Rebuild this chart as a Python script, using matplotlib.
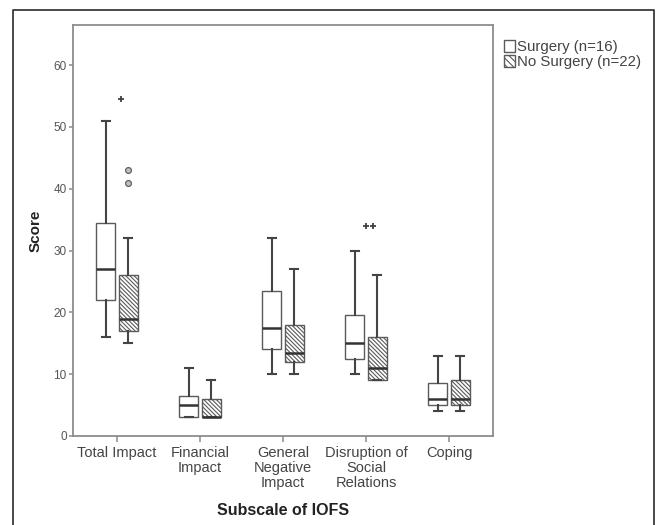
import numpy as np
import matplotlib
matplotlib.use("Agg")
import matplotlib.pyplot as plt
from matplotlib.patches import Patch
from matplotlib.lines import Line2D

# subscales of the IOFS
categories = ["Total Impact", "Financial\nImpact", "General\nNegative\nImpact",
              "Disruption of\nSocial\nRelations", "Coping"]

# Surgery (n=16)
surg_whislo = [16, 3, 10, 10, 4]
surg_q1 = [22, 3, 14, 12.5, 5]
surg_med = [27, 5, 17.5, 15, 6]
surg_q3 = [34.5, 6.5, 23.5, 19.5, 8.5]
surg_whishi = [51, 11, 32, 30, 13]

# No Surgery (n=22)
nos_whislo = [15, 3, 10, 9, 4]
nos_q1 = [17, 3, 12, 9, 5]
nos_med = [19, 3, 13.5, 11, 6]
nos_q3 = [26, 6, 18, 16, 9]
nos_whishi = [32, 9, 27, 26, 13]

# outliers (circles) and extremes (stars) of the No Surgery group, per subscale
nos_outliers = [[41, 43], [], [], [], []]
nos_extremes = [[54.5], [], [], [34, 34], []]

legend_labels = ["Surgery (n=16)", "No Surgery (n=22)"]

plt.rcParams['font.family'] = ['Liberation Sans', 'DejaVu Sans']
plt.rcParams['hatch.linewidth'] = 0.8

LINE = '#444444'
EDGE = '#5a5a5a'
SPINE = '#8c8c8c'
HATCH = '\\' * 8

def stats(lo, q1, med, q3, hi):
	return [dict(whislo=a, q1=b, med=c, q3=d, whishi=e, fliers=[]) for a, b, c, d, e in zip(lo, q1, med, q3, hi)]

fig = plt.figure(figsize=(6.61, 5.25), dpi=100)
ax = fig.add_axes([72.5/661, 1-436/525, 420.5/661, 411/525])

idx = np.arange(len(categories))
off = 0.135
w = 0.229
common = dict(widths=w, patch_artist=True, showfliers=False, capwidths=0.09,
              boxprops=dict(facecolor='white', edgecolor=EDGE, linewidth=1.0),
              whiskerprops=dict(color=LINE, linewidth=1.5),
              capprops=dict(color=LINE, linewidth=1.5),
              medianprops=dict(color='#333333', linewidth=1.8))

ax.bxp(stats(surg_whislo, surg_q1, surg_med, surg_q3, surg_whishi), positions=idx-off, **common)
b2 = ax.bxp(stats(nos_whislo, nos_q1, nos_med, nos_q3, nos_whishi), positions=idx+off, **common)
for b in b2['boxes']:
	b.set_hatch(HATCH)

# SPSS style outlier marks
for i in idx:
	vals = nos_outliers[i]
	if vals:
		ax.plot([i+off]*len(vals), vals, 'o', ms=4.2, mfc='#c0c0c0', mec='#606060', mew=0.9, clip_on=False)
	ext = nos_extremes[i]
	n = len(ext)
	xs = [i+off-0.09+(k-(n-1)/2)*0.08 for k in range(n)]
	if ext:
		ax.plot(xs, ext, '+', ms=5, mec='#404040', mew=1.3, clip_on=False)

ax.set_xlim(-0.536, 4.53)
ax.set_ylim(0, 66.5)
ax.set_yticks(range(0, 61, 10))
ax.set_xticks(idx)
ax.set_xticklabels(categories, fontsize=10.5, color='#444444', linespacing=1.05)
ax.tick_params(axis='y', labelsize=8.5, labelcolor='#555555', length=3.2, width=1.1, color=SPINE, pad=1)
ax.tick_params(axis='x', length=4.5, width=1.1, color=SPINE, pad=3)
for s in ax.spines.values():
	s.set_color(SPINE)
	s.set_linewidth(1.3)

ax.set_ylabel("Score", fontsize=11, fontweight='bold', color='#222222')
ax.yaxis.set_label_coords((36-72.5)/420.5, 0.5)
ax.yaxis.label.set_va('center')
ax.set_xlabel("Subscale of IOFS", fontsize=11.5, fontweight='bold', color='#222222')
ax.xaxis.set_label_coords(0.5, (436-510.7)/411)
ax.xaxis.label.set_va('center')

handles = [Patch(facecolor='white', edgecolor=EDGE, linewidth=1.0),
           Patch(facecolor='white', edgecolor=EDGE, linewidth=1.0, hatch='\\' * 5)]
fig.legend(handles, legend_labels, loc='upper left', bbox_to_anchor=(504/661, 1-40/525),
           frameon=False, fontsize=10.8, borderpad=0, borderaxespad=0, handlelength=0.7,
           handleheight=0.85, handletextpad=0.15, labelspacing=0.05, labelcolor='#444444')

# outer frame of the figure (bottom edge lies below the image)
fig.add_artist(Line2D([13/661, 13/661, 654/661, 654/661], [0, 1-10/525, 1-10/525, 0],
                      transform=fig.transFigure, color='#2a2a2a', lw=1.2))

fig.savefig("out.png", dpi=100)
